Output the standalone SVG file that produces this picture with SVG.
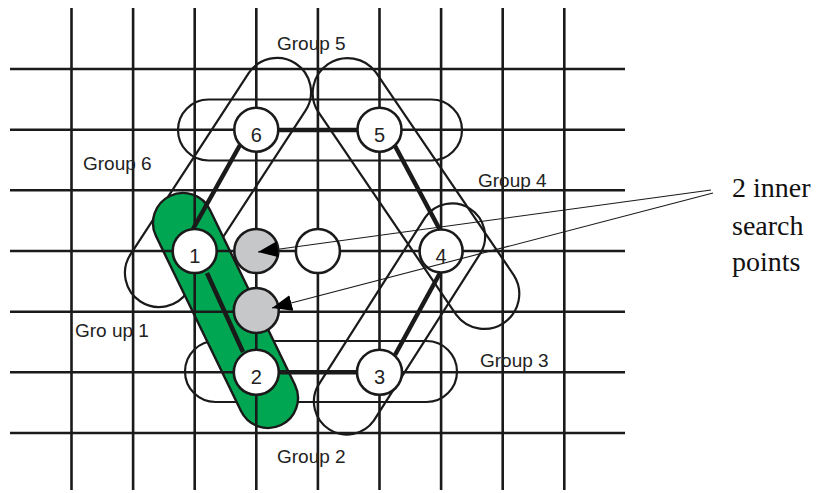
<svg xmlns="http://www.w3.org/2000/svg" width="817" height="493" viewBox="0 0 817 493">
<style>
.grid line{stroke:#1a1a1a;stroke-width:2.6}
.grp{fill:none;stroke:#1a1a1a;stroke-width:2.2}
.green{fill:#00a651;stroke:#1a1a1a;stroke-width:2.4}
.node circle{stroke:#1a1a1a;stroke-width:2.6}
.white{fill:#fff}
.gray{fill:#c6c7c9}
.lbl{font-family:"Liberation Sans",Arial,sans-serif;font-size:20px;fill:#222;text-anchor:middle}
.glbl{font-family:"Liberation Sans",Arial,sans-serif;font-size:19px;fill:#222}
.serif{font-family:"Liberation Serif","Times New Roman",serif;font-size:28px;fill:#111}
.conn line{stroke:#1a1a1a;stroke-width:4.5}
.ptr{stroke:#1a1a1a;stroke-width:1.1;fill:none}
</style>
<defs>
<marker id="ah" viewBox="0 0 20 16" refX="20" refY="8" markerWidth="20" markerHeight="16" markerUnits="userSpaceOnUse" orient="auto">
<path d="M0,0 L20,8 L0,16 Z" fill="#000"/>
</marker>
</defs>
<rect width="817" height="493" fill="#fff"/>

<g id="groups">
<rect id="group5" class="grp" x="178" y="99.5" width="284" height="61" rx="30.5"/>
<rect id="group2" class="grp" x="185" y="341" width="272" height="61" rx="30.5"/>
<path id="group6" class="grp" d="M305.5,110.6 L187.5,291.6 A34,34 0 0 1 130.5,254.4 L248.5,73.4 A34,34 0 0 1 305.5,110.6 Z"/>
<path id="group4" class="grp" d="M375.9,72.3 L513.9,275.3 A35,35 0 0 1 456.1,314.7 L318.1,111.7 A35,35 0 0 1 375.9,72.3 Z"/>
<path id="group3" class="grp" d="M480.8,252.7 L373.8,420.7 A33,33 0 0 1 318.2,385.3 L425.2,217.3 A33,33 0 0 1 480.8,252.7 Z"/>
<path id="group1" class="green" d="M210,209.9 L295,384.9 A30,30 0 0 1 241,411.1 L156,236.1 A30,30 0 0 1 210,209.9 Z"/>
</g>

<g class="grid" id="grid">
<line x1="71.5" y1="8" x2="71.5" y2="490"/>
<line x1="133.1" y1="8" x2="133.1" y2="490"/>
<line x1="194.7" y1="8" x2="194.7" y2="490"/>
<line x1="256.3" y1="8" x2="256.3" y2="490"/>
<line x1="317.9" y1="8" x2="317.9" y2="490"/>
<line x1="379.5" y1="8" x2="379.5" y2="490"/>
<line x1="441.1" y1="8" x2="441.1" y2="490"/>
<line x1="502.7" y1="8" x2="502.7" y2="490"/>
<line x1="564.3" y1="8" x2="564.3" y2="490"/>
<line x1="10" y1="69" x2="625" y2="69"/>
<line x1="10" y1="129.7" x2="625" y2="129.7"/>
<line x1="10" y1="190.3" x2="625" y2="190.3"/>
<line x1="10" y1="251" x2="625" y2="251"/>
<line x1="10" y1="311.7" x2="625" y2="311.7"/>
<line x1="10" y1="372.3" x2="625" y2="372.3"/>
<line x1="10" y1="433" x2="625" y2="433"/>
</g>

<g class="conn" id="connectors">
<line x1="278" y1="130" x2="362" y2="130"/>
<line x1="276" y1="372.3" x2="362" y2="372.3"/>
<line x1="240" y1="145" x2="193" y2="229"/>
<line x1="207" y1="273" x2="243" y2="352"/>
<line x1="394" y1="144" x2="440" y2="230"/>
<line x1="440" y1="273" x2="395" y2="355"/>
</g>

<g id="n6" class="node"><circle class="white" cx="256.3" cy="129.7" r="22"/><text class="lbl" x="256.3" y="141.5">6</text></g>
<g id="n5" class="node"><circle class="white" cx="379.5" cy="129.7" r="22"/><text class="lbl" x="379.5" y="141.5">5</text></g>
<g id="n1" class="node"><circle class="white" cx="194.7" cy="251" r="22"/><text class="lbl" x="194.7" y="262.5">1</text></g>
<g id="n4" class="node"><circle class="white" cx="441.1" cy="251" r="21.5"/><text class="lbl" x="441.1" y="262.5">4</text></g>
<g id="n2" class="node"><circle class="white" cx="256.3" cy="372.3" r="22.5"/><text class="lbl" x="256.3" y="383.5">2</text></g>
<g id="n3" class="node"><circle class="white" cx="379.5" cy="372.3" r="22.5"/><text class="lbl" x="379.5" y="383.5">3</text></g>
<g id="ng1" class="node"><circle class="gray" cx="256.3" cy="251" r="22"/></g>
<g id="ng2" class="node"><circle class="gray" cx="256.3" cy="310.5" r="22.5"/></g>
<g id="nw" class="node"><circle class="white" cx="317.9" cy="251" r="22"/></g>

<g id="pointers">
<line class="ptr" x1="711" y1="190" x2="258" y2="252" marker-end="url(#ah)"/>
<line class="ptr" x1="713" y1="193" x2="272" y2="308" marker-end="url(#ah)"/>
</g>

<g id="labels">
<text class="glbl" x="277" y="50">Group 5</text>
<text class="glbl" x="83" y="170">Group 6</text>
<text class="glbl" x="478" y="187">Group 4</text>
<text class="glbl" x="480" y="367">Group 3</text>
<text class="glbl" x="277" y="463">Group 2</text>
<text class="glbl" x="75" y="337">Gro up 1</text>
<text class="serif" x="732" y="197">2 inner</text>
<text class="serif" x="732" y="235">search</text>
<text class="serif" x="732" y="271">points</text>
</g>
</svg>
